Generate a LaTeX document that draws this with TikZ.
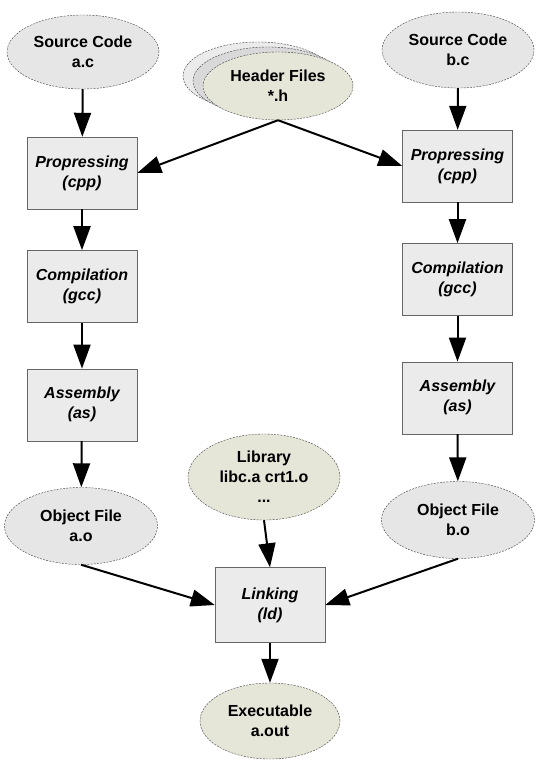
\documentclass[tikz,border=0pt]{standalone}
\usepackage{fontspec}
\setmainfont{Liberation Sans}
\usepackage{xcolor}
\usepackage{tikz}
\usetikzlibrary{positioning, arrows.meta, shapes.geometric}

\definecolor{filegray}{HTML}{E6E6E6}
\definecolor{filegreen}{HTML}{E5E5D8}
\definecolor{stepgray}{HTML}{EBEBEB}

\begin{document}
\begin{tikzpicture}[
    x=1pt, y=-1pt,
    node distance=41pt,
    every node/.style={font=\fontsize{16}{20}\selectfont\bfseries},
    file/.style={ellipse, draw=black!75, thin, dash pattern=on 2pt off 1.2pt, inner sep=0pt,
        minimum width=152pt, minimum height=74pt, align=center, fill=#1},
    file/.default=filegray,
    lib/.style={file=filegreen},
    stepbox/.style={rectangle, draw=black!60, thin, minimum width=110pt, minimum height=72pt,
        align=center, fill=stepgray, font=\fontsize{16}{20}\selectfont\bfseries\itshape},
    arr/.style={-{Triangle[length=24pt, width=17pt]}, line width=2pt},
]
    \useasboundingbox (0,0) rectangle (539,768);

    % sources and headers
    \node[file] (srcA) at (83,52) {Source Code\\a.c};
    \node[file, minimum height=76pt] (srcB) at (458,50) {Source Code\\b.c};
    \node[file=white!92!black, minimum width=150pt, minimum height=68pt] (hdrC) at (258,76) {};
    \node[file=white!85!black, minimum width=150pt, minimum height=68pt] (hdrB) at (268,81) {};
    \node[lib, minimum width=150pt, minimum height=68pt] (hdr) at (278,86) {Header Files\\*.h};

    % left chain
    \node[stepbox] (cppA) at (82,173) {Propressing\\(cpp)};
    \node[stepbox, below=of cppA] (gccA) {Compilation\\(gcc)};
    \node[stepbox, below=46pt of gccA] (asA) {Assembly\\(as)};
    \node[file, minimum width=153pt, minimum height=77pt] (objA) at (81,526) {Object File\\a.o};

    % right chain
    \node[stepbox] (cppB) at (457.5,166) {Propressing\\(cpp)};
    \node[stepbox, below=of cppB] (gccB) {Compilation\\(gcc)};
    \node[stepbox, below=46pt of gccB] (asB) {Assembly\\(as)};
    \node[file, minimum width=153pt, minimum height=77pt] (objB) at (458,520) {Object File\\b.o};

    % link
    \node[lib, minimum width=152pt, minimum height=86pt] (libc) at (264,477) {Library\\libc.a crt1.o\\...};
    \node[stepbox, minimum height=75pt] (ld) at (270,605) {Linking\\(ld)};
    \node[lib, minimum width=140pt, minimum height=76pt] (exe) at (270,721) {Executable\\a.out};

    \draw[arr] (srcA) -- (cppA);
    \draw[arr] (srcB) -- (cppB);
    \draw[arr] (hdr.south) -- (cppA.east);
    \draw[arr] (hdr.south) -- (cppB.west);
    \draw[arr] (cppA) -- (gccA);
    \draw[arr] (gccA) -- (asA);
    \draw[arr] (asA) -- (objA);
    \draw[arr] (cppB) -- (gccB);
    \draw[arr] (gccB) -- (asB);
    \draw[arr] (asB) -- (objB);
    \draw[arr] (objA.south) -- (ld.west);
    \draw[arr] (objB.south) -- (ld.east);
    \draw[arr] (libc.south) -- (ld.north);
    \draw[arr] (ld) -- (exe);
\end{tikzpicture}
\end{document}
